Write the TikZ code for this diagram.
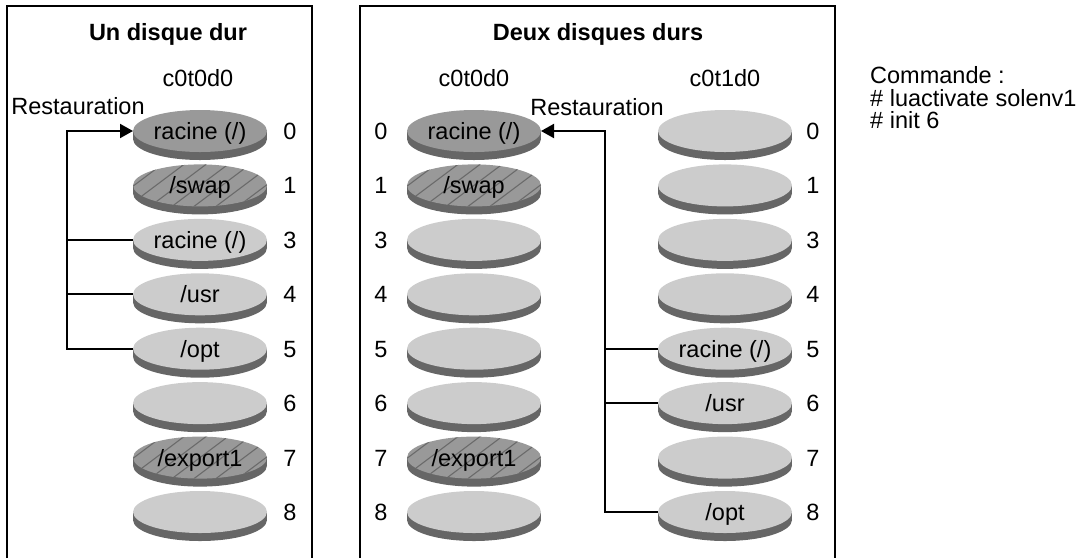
\documentclass[tikz,border=0pt]{standalone}
\usepackage{fontspec}
\setmainfont{Liberation Sans}
\usetikzlibrary{shapes.geometric,arrows.meta}
\definecolor{disklight}{HTML}{CCCCCC}
\definecolor{diskdark}{HTML}{999999}
\definecolor{diskside}{HTML}{666666}
\definecolor{hatchcol}{HTML}{6A6A6A}
\newcommand\drawdisk[5]{%
  \fill[diskside] (#2-67,#3) rectangle (#2+67,#3+8);
  \fill[diskside] (#2,#3+8) ellipse [x radius=67pt, y radius=21pt];
  \node[disktop,#4] (#1) at (#2,#3) {#5};
}
\tikzset{
  lbl/.style={inner sep=0pt, text height=17pt, text depth=0pt, font=\fontsize{23.5}{28}\selectfont},
  disktop/.style={ellipse, lbl, minimum width=134pt, minimum height=42pt, outer sep=0pt},
  light/.style={fill=disklight},
  dark/.style={fill=diskdark},
  hatched/.style={fill=diskdark, path picture={
      \foreach \k in {-6,...,6}
        \draw[hatchcol, line width=1.1pt]
          (path picture bounding box.center) +(\k*22pt-40pt,-30pt) -- +(\k*22pt+40pt,30pt);}},
  panel/.style={draw=black, line width=2.2pt},
  conn/.style={draw=black, line width=2pt},
  arr/.style={-{Triangle[length=13pt,width=14pt]}},
}
\begin{document}
\begin{tikzpicture}[x=1pt,y=-1pt]
\useasboundingbox (0,0) rectangle (1081,558);
% panels
\draw[panel] (7,558) -- (7,6) -- (312,6) -- (312,558);
\draw[panel] (360,558) -- (360,6) -- (835,6) -- (835,558);
% titles
\node[lbl, font=\fontsize{23.5}{28}\selectfont\bfseries] (t1) at (168,32) {Un disque dur};
\node[lbl, font=\fontsize{23.5}{28}\selectfont\bfseries] (t2) at (598,32) {Deux disques durs};
\node[lbl] (h1) at (198,78) {c0t0d0};
\node[lbl] (h2) at (474,78) {c0t0d0};
\node[lbl] (h3) at (725,78) {c0t1d0};
\node[lbl] (rs1) at (78,106) {Restauration};
\node[lbl] (rs2) at (597,107) {Restauration};
% command
\node[lbl, anchor=west] (cmd1) at (870,75) {Commande :};
\node[lbl, anchor=west] (cmd2) at (870,97.5) {\# luactivate solenv1};
\node[lbl, anchor=west] (cmd3) at (870,120) {\# init 6};
% panel 1 disks
\drawdisk{L0}{200}{131}{dark}{racine (/)}
\drawdisk{L1}{200}{185.4}{hatched}{/swap}
\drawdisk{L3}{200}{239.9}{light}{racine (/)}
\drawdisk{L4}{200}{294.3}{light}{/usr}
\drawdisk{L5}{200}{348.7}{light}{/opt}
\drawdisk{L6}{200}{403.1}{light}{}
\drawdisk{L7}{200}{457.6}{hatched}{/export1}
\drawdisk{L8}{200}{512}{light}{}
% panel 2 left disks
\drawdisk{M0}{474}{131}{dark}{racine (/)}
\drawdisk{M1}{474}{185.4}{hatched}{/swap}
\drawdisk{M3}{474}{239.9}{light}{}
\drawdisk{M4}{474}{294.3}{light}{}
\drawdisk{M5}{474}{348.7}{light}{}
\drawdisk{M6}{474}{403.1}{light}{}
\drawdisk{M7}{474}{457.6}{hatched}{/export1}
\drawdisk{M8}{474}{512}{light}{}
% panel 2 right disks
\drawdisk{R0}{725}{131}{light}{}
\drawdisk{R1}{725}{185.4}{light}{}
\drawdisk{R3}{725}{239.9}{light}{}
\drawdisk{R4}{725}{294.3}{light}{}
\drawdisk{R5}{725}{348.7}{light}{racine (/)}
\drawdisk{R6}{725}{403.1}{light}{/usr}
\drawdisk{R7}{725}{457.6}{light}{}
\drawdisk{R8}{725}{512}{light}{/opt}
% slice numbers
\foreach \n/\yy in {0/131,1/185.4,3/239.9,4/294.3,5/348.7,6/403.1,7/457.6,8/512}{
  \node[lbl] (nl\n) at (290,\yy) {\n};
  \node[lbl] (nm\n) at (381,\yy) {\n};
  \node[lbl] (nr\n) at (813,\yy) {\n};
}
% connectors panel 1
\draw[conn, arr] (L5.west) -- ++(-66,0) |- (L0.west);
\draw[conn] (L3.west) -- ++(-66,0);
\draw[conn] (L4.west) -- ++(-66,0);
% connectors panel 2
\draw[conn, arr] (R8.west) -- ++(-53,0) |- (M0.east);
\draw[conn] (R5.west) -- ++(-53,0);
\draw[conn] (R6.west) -- ++(-53,0);
\end{tikzpicture}
\end{document}
